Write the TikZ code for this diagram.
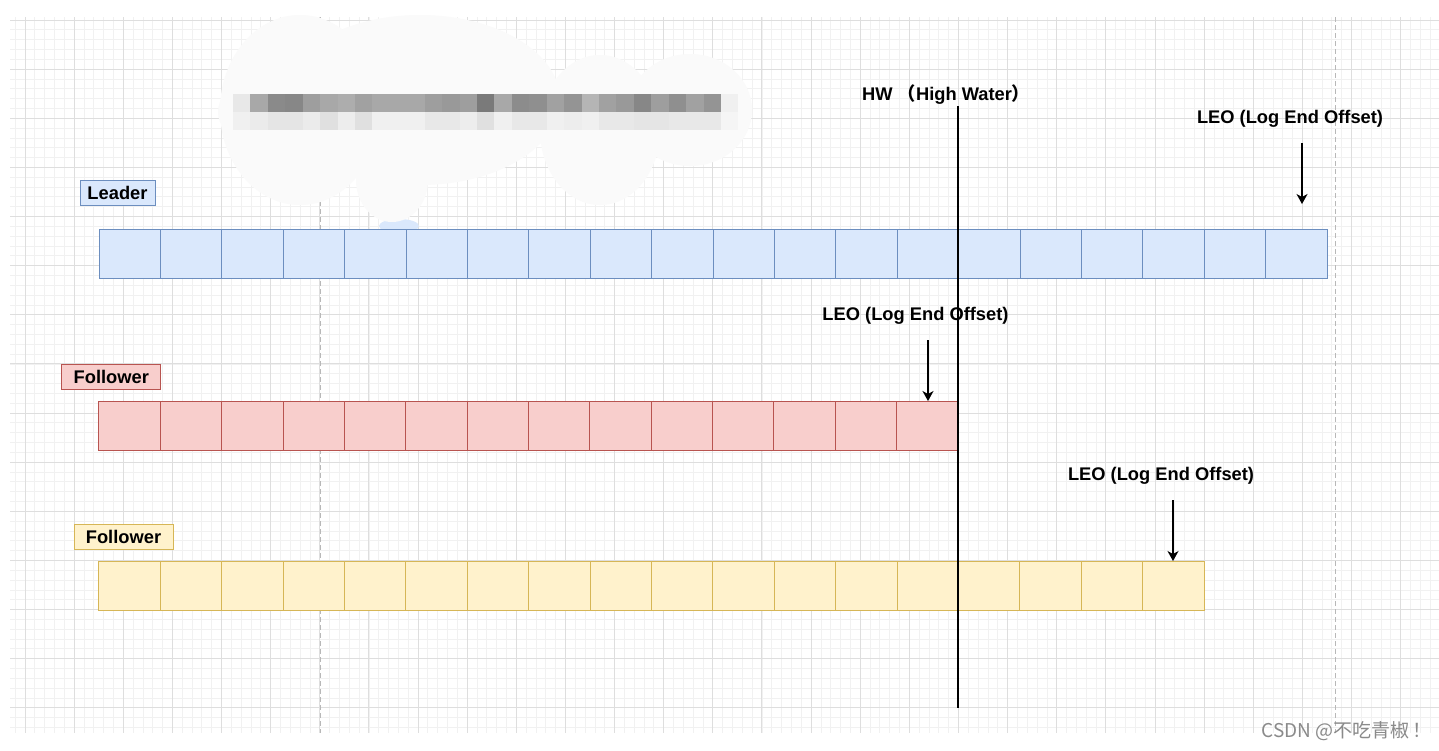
\documentclass[tikz,border=0pt]{standalone}
\usepackage{fontspec}
\setmainfont{Liberation Sans}
\newfontfamily\cjkfont{Noto Sans CJK SC}
\usetikzlibrary{arrows.meta}
\definecolor{leadfill}{HTML}{DAE8FC}
\definecolor{leadline}{HTML}{6C8EBF}
\definecolor{redfill}{HTML}{F8CECC}
\definecolor{redline}{HTML}{B85450}
\definecolor{yelfill}{HTML}{FFF2CC}
\definecolor{yelline}{HTML}{D6B656}
\definecolor{gridminor}{HTML}{F1F1F1}
\definecolor{gridmajor}{HTML}{DEDEDE}
\definecolor{pagebreak}{HTML}{B8B8B8}
\definecolor{blob}{HTML}{FAFAFA}
\definecolor{wmgray}{HTML}{8A8A8A}
\begin{document}
\begin{tikzpicture}[x=1pt,y=-1pt,
  cellbox/.style={draw, line width=1pt, inner sep=0pt, minimum width=61.4pt, minimum height=49pt},
  leadcell/.style={cellbox, fill=leadfill, draw=leadline},
  redcell/.style={cellbox, fill=redfill, draw=redline},
  yelcell/.style={cellbox, fill=yelfill, draw=yelline},
  lab/.style={inner sep=0pt, minimum height=25pt, line width=1pt, font=\fontsize{18.3}{21}\selectfont\bfseries},
  txt/.style={inner sep=0pt, font=\fontsize{18.3}{21}\selectfont\bfseries},
  arr/.style={line width=1.3pt, -{Stealth[length=10pt,width=11pt,inset=3pt]}},
  hwline/.style={line width=1.5pt, black},
  minorline/.style={gridminor, line width=0.8pt},
  majorline/.style={gridmajor, line width=1pt},
  pageline/.style={pagebreak, line width=1pt, dash pattern=on 5pt off 3pt}
]
\useasboundingbox (0,0) rectangle (1439,750);
\fill[white] (0,0) rectangle (1439,750);
% grid
\begin{scope}
\clip (10,17) rectangle (1439,733);
\foreach \i in {-2,...,145} {\draw[minorline] ({25+9.826*\i},17) -- ({25+9.826*\i},733);}
\foreach \j in {0,...,73} {\draw[minorline] (10,{20+9.826*\j}) -- (1439,{20+9.826*\j});}
\foreach \i in {0,...,29} {\draw[majorline] ({25+49.13*\i},17) -- ({25+49.13*\i},733);}
\foreach \j in {0,...,14} {\draw[majorline] (10,{20+49.13*\j}) -- (1439,{20+49.13*\j});}
\end{scope}
\draw[pageline] (320,17) -- (320,733);
\draw[pageline] (1335,17) -- (1335,733);
% blurred area
\fill[leadfill] (399,226) ellipse (20 and 7);
\fill[blob] (300,110) ellipse (80 and 95);
\fill[blob] (420,100) ellipse (140 and 85);
\fill[blob] (392,180) ellipse (36 and 42);
\fill[blob] (600,130) ellipse (60 and 75);
\fill[blob] (690,110) ellipse (62 and 56);
\fill[blob] (240,112) ellipse (22 and 24);
\foreach \v [count=\i] in {9,34,46,47,38,34,32,37,34,34,34,38,40,38,52,34,45,44,37,42,29,37,40,47,38,44,37,42,6}
  {\fill[black!\v] ({233+17.43*(\i-1)},94) rectangle ++(17.43,17.8);}
\foreach \v [count=\i] in {6,8,10,10,8,12,7,12,6,6,6,9,9,7,12,6,9,9,6,7,6,9,9,10,10,9,9,9,4}
  {\fill[black!\v] ({233+17.43*(\i-1)},111.8) rectangle ++(17.43,18.2);}
% cells
\foreach \i in {1,...,20} {\node[leadcell] (L\i) at ({99+61.4*(\i-0.5)},253.5) {};}
\foreach \i in {1,...,14} {\node[redcell] (R\i) at ({99+61.36*(\i-0.5)},425.5) {};}
\foreach \i in {1,...,18} {\node[yelcell] (Y\i) at ({99+61.39*(\i-0.5)},585.5) {};}
% labels
\node[lab, fill=leadfill, draw=leadline, minimum width=75pt] (leader) at (117.5,192.5) {Leader};
\node[lab, fill=redfill, draw=redline, minimum width=98.7pt] (follow1) at (111.3,376.5) {Follower};
\node[lab, fill=yelfill, draw=yelline, minimum width=99pt] (follow2) at (123.5,536.5) {Follower};
% HW
\node[txt, anchor=west] (hw) at (862,95) {HW\ {\cjkfont\bfseries （}High Water{\cjkfont\bfseries ）}};
\coordinate (hwtop) at (958,106);
\coordinate (hwbot) at (958,708);
\draw[hwline] (hwtop) -- (hwbot);
% LEO labels
\node[txt] (leo1) at (1290,119) {LEO (Log End Offset)};
\node[txt] (leo2) at (915.5,316) {LEO (Log End Offset)};
\node[txt] (leo3) at (1161,476) {LEO (Log End Offset)};
\coordinate (a1s) at (1302,143); \coordinate (a1e) at (1302,204);
\coordinate (a2s) at (928,340);  \coordinate (a2e) at (928,401);
\coordinate (a3s) at (1173,500); \coordinate (a3e) at (1173,561);
\draw[arr] (a1s) -- (a1e);
\draw[arr] (a2s) -- (a2e);
\draw[arr] (a3s) -- (a3e);
% watermark
\fill[white] (1255,734) rectangle (1439,750);
\node[anchor=east, inner sep=0pt, text=wmgray, font=\cjkfont\fontsize{19}{22}\selectfont] (wm) at (1432,731) {CSDN @不吃青椒\,！};
\end{tikzpicture}
\end{document}
